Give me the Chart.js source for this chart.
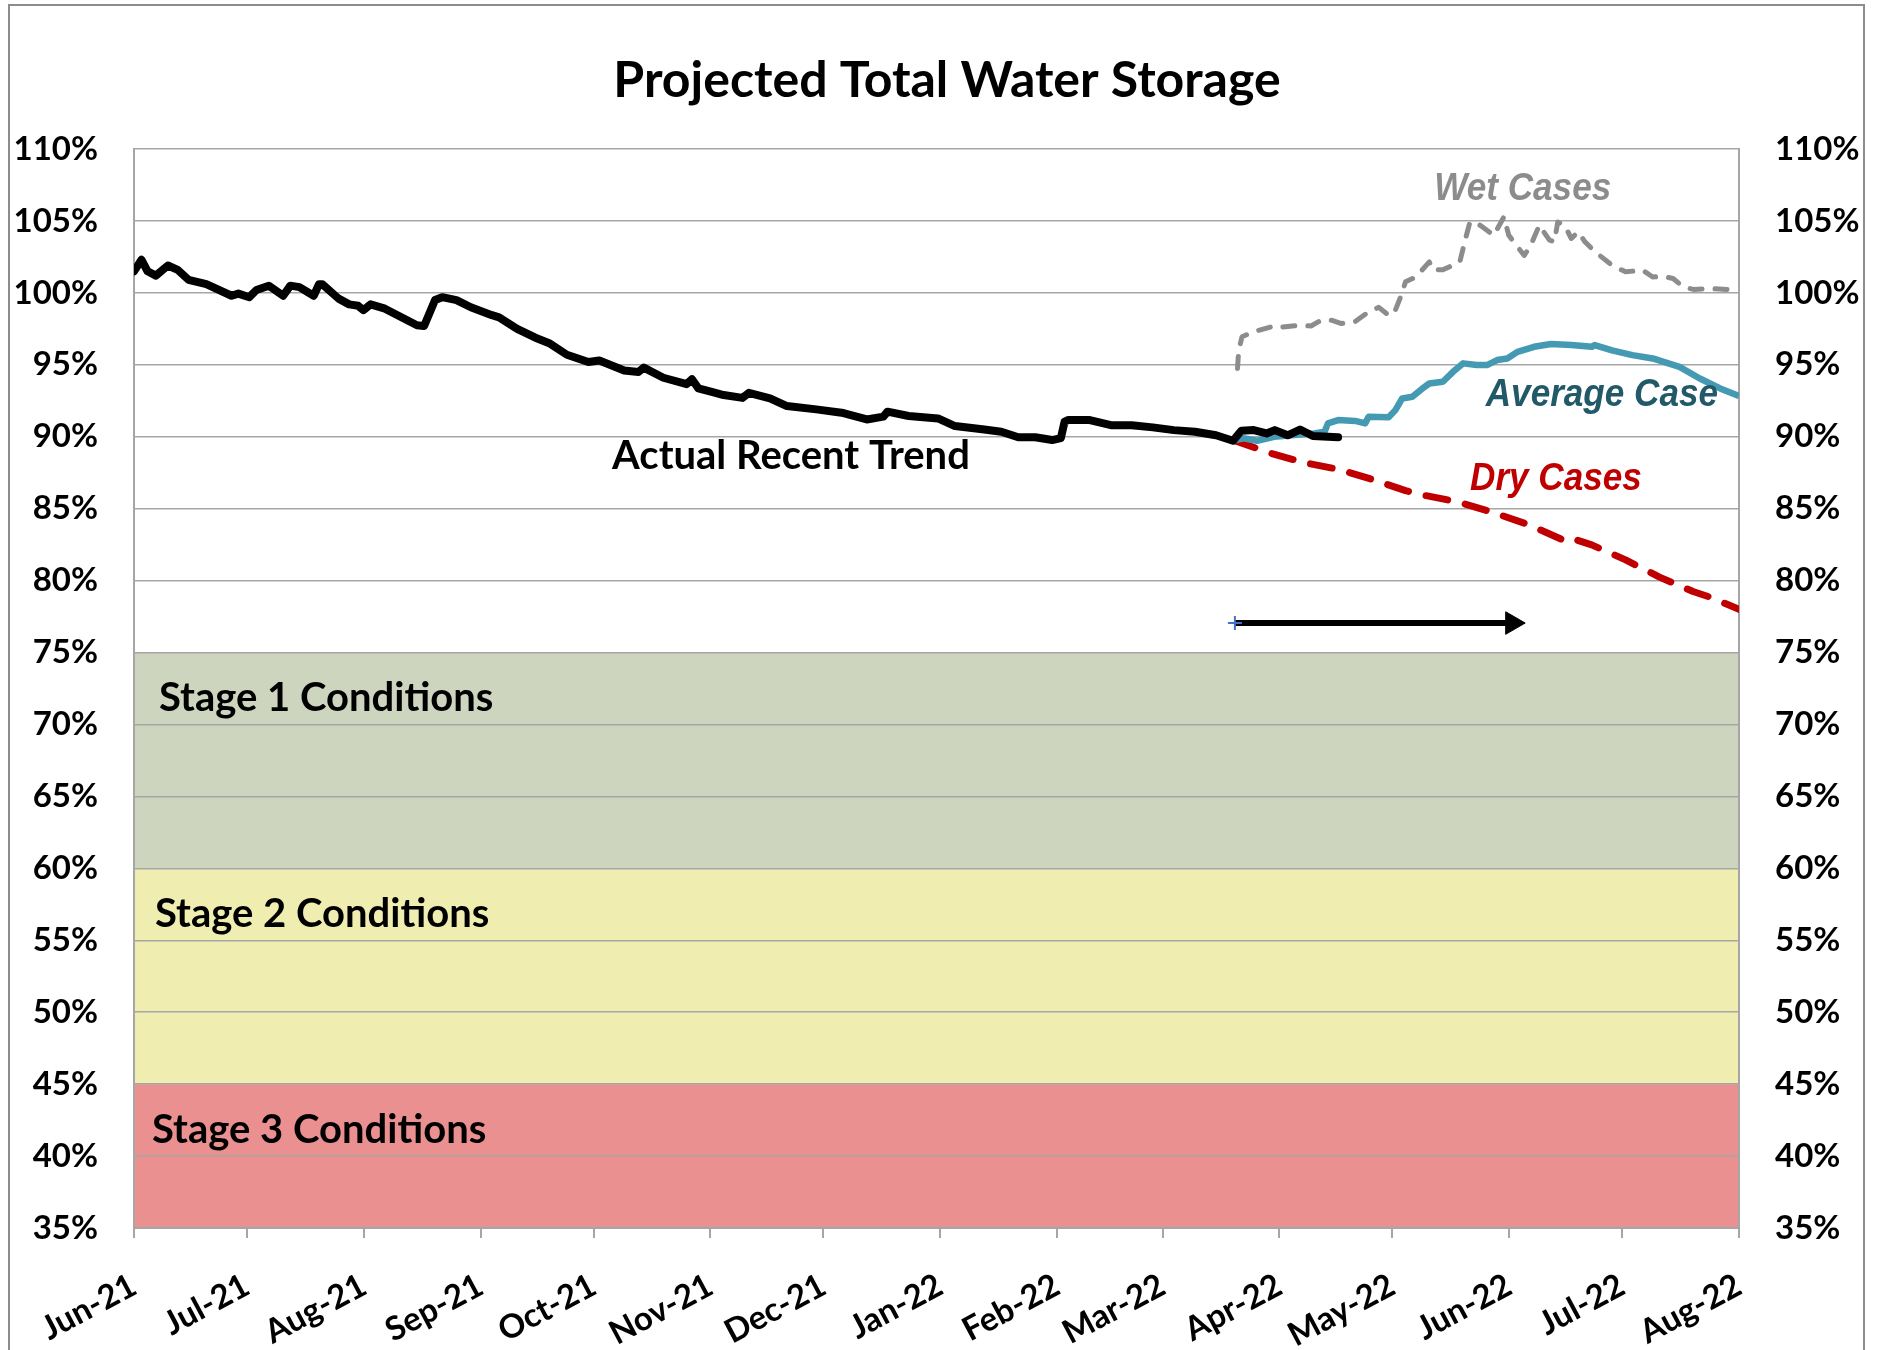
<!DOCTYPE html>
<html><head><meta charset="utf-8">
<script src="https://cdn.jsdelivr.net/npm/chart.js@4.4.1/dist/chart.umd.min.js"></script>
<style>html,body{margin:0;padding:0;background:#fff;}#wrap{width:1878px;height:1350px;}</style>
</head><body><div id="wrap"><canvas id="c" width="1878" height="1350"></canvas></div>
<script>
// ---- data (x = days since 1 Jun 2021, y = % of storage) ----
const monthDays   = [0,30,61,92,122,153,183,214,245,273,304,334,365,395,426];
const monthLabels = ['Jun-21','Jul-21','Aug-21','Sep-21','Oct-21','Nov-21','Dec-21','Jan-22','Feb-22','Mar-22','Apr-22','May-22','Jun-22','Jul-22','Aug-22'];

const actualDays   = [0,2,3.6,5.8,9,11.6,14.5,19.2,25.9,27.7,30.6,32.5,35.8,39.6,41.5,43.9,47.7,49.1,50,54.3,57.1,59.5,60.9,62.8,66.6,75.1,77,79.9,81.8,85.6,89.4,95,96.9,101.7,106.4,110.2,114.9,120.6,123.5,130.1,133.9,135.3,140.5,146.7,148.1,149.8,153.1,156.5,161.5,163.2,168.8,173.3,181.1,187.8,194.5,198.9,200,205.6,213.4,217.9,225.7,230.2,234.7,239.2,243.7,246,247,248,253.7,259.3,264.8,270.4,276,281.6,287.2,291.7,293.9,297.2,300.6,302.8,306.2,309.5,312.9,319.6];
const actualValues = [101.5,102.3,101.5,101.2,101.9,101.6,100.9,100.6,99.8,99.95,99.7,100.2,100.5,99.8,100.5,100.4,99.8,100.6,100.6,99.6,99.2,99.1,98.8,99.2,98.9,97.75,97.7,99.5,99.7,99.5,99.0,98.45,98.3,97.5,96.9,96.5,95.7,95.2,95.3,94.6,94.5,94.8,94.1,93.65,94.0,93.36,93.13,92.9,92.7,93.05,92.67,92.13,91.9,91.67,91.2,91.4,91.74,91.44,91.27,90.74,90.5,90.35,89.96,89.96,89.77,89.9,91.05,91.16,91.16,90.8,90.8,90.65,90.46,90.35,90.1,89.72,90.42,90.46,90.23,90.46,90.1,90.5,90.05,89.96];

const averageDays   = [292,294.5,298.1,302.6,308,313.3,316,316.9,319.6,324.1,326.8,327.7,333,334.8,336.6,339.3,342,343.8,347.4,350.1,352.8,356.4,359.1,361.8,364.5,367.2,371.6,376.1,381.5,386.9,387.7,392.3,397.7,403.1,410.2,415.6,421,426];
const averageValues = [89.75,89.89,89.72,90.0,90.12,90.23,90.35,90.93,91.16,91.1,90.93,91.39,91.35,91.85,92.66,92.78,93.36,93.7,93.82,94.51,95.1,94.98,94.98,95.33,95.44,95.9,96.25,96.44,96.37,96.25,96.37,96.0,95.67,95.44,94.86,94.05,93.36,92.83];

const dryDays   = [292,301.7,310.6,319.6,328.6,337.5,342,351,360,369,374.4,379.7,381.5,386.9,395.9,404.9,413.8,418.3,426];
const dryValues = [89.75,88.85,88.2,87.74,87.04,86.25,85.95,85.49,84.8,83.99,83.4,82.78,82.94,82.48,81.44,80.24,79.24,78.85,78.0];

const wetDays   = [292.9,293.2,294.1,297.2,302.6,303.9,308.9,312.4,315.1,317.8,320.5,324.1,327.7,330.4,333,334.4,336.2,337.5,340.2,343.8,344.7,347.4,351.9,353.3,354.6,357.3,360.9,363.6,364.9,367.2,369,370.7,373,375.7,377,377.9,379.7,381.5,383.3,385.1,387.8,392.3,395.9,400.4,403.1,405.8,408.5,411.2,413.9,418.4,422.8,426];
const wetValues = [94.75,96.0,96.95,97.3,97.7,97.6,97.73,97.7,98.1,98.1,97.87,98.0,98.68,98.99,98.45,98.55,99.73,100.77,101.1,102.15,101.6,101.6,102.15,103.66,104.93,104.7,104.0,105.28,104.0,103.2,102.6,103.3,104.7,103.66,103.55,104.93,104.7,103.78,104.24,103.55,102.85,101.92,101.46,101.58,101.1,101.15,101.0,100.42,100.24,100.3,100.24,100.14];

const arrowDays   = [292.2,365.8];
const arrowValues = [77.05,77.05];

const bandTops    = [75,60,45];
const bandBottoms = [60,45,35];
const bandLabels  = ['Stage 1 Conditions','Stage 2 Conditions','Stage 3 Conditions'];

// ---- styles / layout ----
const bandColors = ['#CDD5BE','#EFEEB0','#EA9090'];
const bandTextDx = [25,21,18];
const gridColor = '#A6A6A6';
const annotations = [
  {text:'Actual Recent Trend', day:126.9, value:88.66, color:'#000', font:'bold 40px Lato', align:'left', sx:1},
  {text:'Wet Cases',    day:368.6, value:107.2, color:'#8C8C8C', font:'italic bold 39px "Liberation Sans"', align:'center', sx:0.9},
  {text:'Average Case', day:389.6, value:92.9,  color:'#215968', font:'italic bold 39px "Liberation Sans"', align:'center', sx:0.9},
  {text:'Dry Cases',    day:377.4, value:87.05, color:'#C00000', font:'italic bold 39px "Liberation Sans"', align:'center', sx:0.9}
];

const pts = (xs, ys) => xs.map((d,i)=>({x:d, y:ys[i]}));

const decoPlugin = {
  id:'deco',
  beforeDraw(chart){
    const {ctx, chartArea:a, scales:{y}} = chart;
    ctx.save();
    ctx.fillStyle = '#fff'; ctx.fillRect(0,0,chart.width,chart.height);
    ctx.strokeStyle = '#8C8C8C'; ctx.lineWidth = 2;
    ctx.strokeRect(9,5,1855,1360);
    for (let i=0;i<bandTops.length;i++){
      const t = y.getPixelForValue(bandTops[i]), b = y.getPixelForValue(bandBottoms[i]);
      ctx.fillStyle = bandColors[i];
      ctx.fillRect(a.left, t, a.right-a.left, b-t);
    }
    // title
    ctx.fillStyle = '#000'; ctx.font = 'bold 50px Lato';
    ctx.textAlign = 'center'; ctx.textBaseline = 'middle';
    ctx.fillText('Projected Total Water Storage', 947, 81);
    ctx.restore();
  },
  beforeDatasetsDraw(chart){
    const {ctx, chartArea:a, scales:{y}} = chart;
    ctx.save();
    ctx.fillStyle = '#000'; ctx.font = 'bold 40px Lato';
    ctx.textAlign = 'left'; ctx.textBaseline = 'middle';
    for (let i=0;i<bandLabels.length;i++){
      const t = y.getPixelForValue(bandTops[i]);
      ctx.fillText(bandLabels[i], a.left + bandTextDx[i], t + 46);
    }
    ctx.restore();
  },
  afterDatasetsDraw(chart){
    const {ctx, scales:{x,y}} = chart;
    ctx.save();
    ctx.textBaseline = 'middle';
    for (const an of annotations){
      const px = x.getPixelForValue(an.day), py = y.getPixelForValue(an.value);
      ctx.save();
      ctx.translate(px, py); ctx.scale(an.sx, 1);
      ctx.font = an.font; ctx.fillStyle = an.color; ctx.textAlign = an.align;
      ctx.fillText(an.text, 0, 0);
      ctx.restore();
    }
    ctx.restore();
  }
};

const tickFont = {family:'Lato', weight:'bold', size:33};

new Chart(document.getElementById('c'), {
  type:'line',
  data:{ datasets:[
    {label:'Actual', data:pts(actualDays, actualValues), borderColor:'#000', borderWidth:8, pointRadius:0, borderJoinStyle:'round', borderCapStyle:'round'},
    {label:'Arrow', data:pts(arrowDays, arrowValues), borderColor:'#000', borderWidth:6,
      pointStyle:['cross','triangle'], pointRadius:[7,13], pointRotation:[0,90],
      pointBackgroundColor:['#4472C4','#000'], pointBorderColor:['#4472C4','#000'], pointBorderWidth:[2,1]},
    {label:'Average Case', data:pts(averageDays, averageValues), borderColor:'#4499B3', borderWidth:6.5, pointRadius:0, borderJoinStyle:'round'},
    {label:'Dry Cases', data:pts(dryDays, dryValues), borderColor:'#C00000', borderWidth:7, pointRadius:0, borderDash:[22,18], borderCapStyle:'round', borderJoinStyle:'round'},
    {label:'Wet Cases', data:pts(wetDays, wetValues), borderColor:'#8C8C8C', borderWidth:5, pointRadius:0, borderDash:[12,13], borderCapStyle:'round', borderJoinStyle:'round'}
  ]},
  options:{
    responsive:false, animation:false, devicePixelRatio:1,
    layout:{padding:{top:149, left:0, right:0, bottom:0}},
    plugins:{legend:{display:false}, tooltip:{enabled:false}, title:{display:false}},
    scales:{
      x:{ type:'linear', min:0, max:426, position:'bottom',
        afterBuildTicks: s => { s.ticks = monthDays.map(v=>({value:v})); },
        ticks:{ autoSkip:false, maxRotation:28, minRotation:28, padding:28, font:tickFont, color:'#000',
          callback:(v,i)=>monthLabels[i] },
        grid:{ drawOnChartArea:false, drawTicks:true, tickLength:10, color:gridColor, lineWidth:2 },
        border:{ color:gridColor, width:2 },
        afterFit: s => { s.height = 122; }
      },
      y:{ position:'left', min:35, max:110,
        ticks:{ stepSize:5, callback:v=>v+'%', font:tickFont, color:'#000', padding:36 },
        grid:{ color:gridColor, lineWidth:1.5, drawTicks:false },
        border:{ color:gridColor, width:2 },
        afterFit: s => { s.width = 134; }
      },
      y2:{ position:'right', min:35, max:110,
        ticks:{ stepSize:5, callback:v=>v+'%', font:tickFont, color:'#000', padding:36 },
        grid:{ drawOnChartArea:false, drawTicks:false },
        border:{ color:gridColor, width:2 },
        afterFit: s => { s.width = 139; }
      }
    }
  },
  plugins:[decoPlugin]
});
</script></body></html>
